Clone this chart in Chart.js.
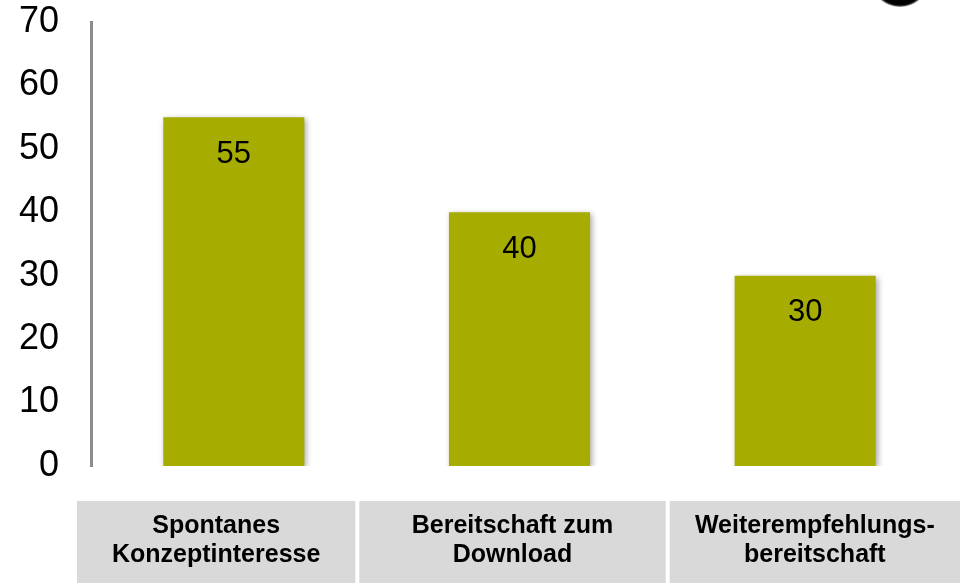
<!DOCTYPE html>
<html>
<head>
<meta charset="utf-8">
<script src="https://cdn.jsdelivr.net/npm/chart.js@4"></script>
<style>
  html, body { margin: 0; padding: 0; background: #ffffff; }
  #wrap { width: 964px; height: 583px; position: relative; }
</style>
</head>
<body>
<div id="wrap"><canvas id="c" width="964" height="583"></canvas></div>
<script>
// ---- data ----
const categories = [
  ["Spontanes", "Konzeptinteresse"],
  ["Bereitschaft zum", "Download"],
  ["Weiterempfehlungs-", "bereitschaft"]
];
const values = [55, 40, 30];
const yTicks = [0, 10, 20, 30, 40, 50, 60, 70];

// ---- style ----
const FONT = '"Liberation Sans", Arial, Helvetica, sans-serif';
const BAR_COLOR = '#A6AD00';
const BOX_COLOR = '#D9D9D9';
const AXIS_COLOR = '#8C8C8C';
// relative edges of the three label boxes within the label strip
const BOX_EDGES = [[0, 278 / 882], [282 / 882, 588 / 882], [592 / 882, 1]];

const decorPlugin = {
  id: 'decor',
  beforeDatasetsDraw(chart) {
    const ctx = chart.ctx;
    ctx.save();
    ctx.shadowColor = 'rgba(0,0,0,0.35)';
    ctx.shadowBlur = 6;
    ctx.shadowOffsetX = 2;
    ctx.shadowOffsetY = 2;
  },
  afterDatasetsDraw(chart) {
    const ctx = chart.ctx;
    ctx.restore();
    // value labels inside bars
    const meta = chart.getDatasetMeta(0);
    ctx.save();
    ctx.font = '31px ' + FONT;
    ctx.fillStyle = '#000000';
    ctx.textAlign = 'center';
    ctx.textBaseline = 'middle';
    meta.data.forEach((bar, i) => {
      ctx.fillText(String(values[i]), bar.x, bar.y + 37);
    });
    ctx.restore();
  },
  afterDraw(chart) {
    const ctx = chart.ctx;
    const area = chart.chartArea;
    const stripLeft = area.left - 14;
    const stripRight = area.right + 12;
    const W = stripRight - stripLeft;
    const top = area.bottom + 35;
    const bottom = chart.height;
    ctx.save();
    BOX_EDGES.forEach((e, i) => {
      const l = stripLeft + e[0] * W;
      const r = stripLeft + e[1] * W;
      ctx.fillStyle = BOX_COLOR;
      ctx.fillRect(l, top, r - l, bottom - top);
      ctx.fillStyle = '#000000';
      ctx.font = 'bold 25px ' + FONT;
      ctx.textAlign = 'center';
      ctx.textBaseline = 'alphabetic';
      const cx = (l + r) / 2;
      categories[i].forEach((line, k) => {
        ctx.fillText(line, cx, top + 32 + k * 29);
      });
    });
    // partial logo at top right
    const g = ctx.createRadialGradient(900, -22, 10, 900, -22, 30);
    g.addColorStop(0, '#000000');
    g.addColorStop(0.85, '#000000');
    g.addColorStop(1, 'rgba(0,0,0,0)');
    ctx.fillStyle = g;
    ctx.beginPath();
    ctx.ellipse(900, -22, 30, 29, 0, 0, Math.PI * 2);
    ctx.fill();
    ctx.restore();
  }
};

new Chart(document.getElementById('c'), {
  type: 'bar',
  data: {
    labels: categories,
    datasets: [{
      data: values,
      backgroundColor: BAR_COLOR,
      borderWidth: 0,
      barPercentage: 0.494,
      categoryPercentage: 1.0
    }]
  },
  options: {
    responsive: false,
    animation: false,
    devicePixelRatio: 1,
    layout: { padding: { top: 22, left: 19, right: 16, bottom: 117 } },
    plugins: {
      legend: { display: false },
      tooltip: { enabled: false },
      title: { display: false }
    },
    scales: {
      x: {
        display: false,
        offset: true,
        grid: { display: false }
      },
      y: {
        min: 0,
        max: 70,
        afterBuildTicks(scale) {
          scale.ticks = yTicks.map(v => ({ value: v }));
        },
        afterFit(scale) {
          scale.width = 72;
          scale.paddingTop = 0;
          scale.paddingBottom = 0;
        },
        grid: { display: false, drawTicks: false },
        border: { display: true, color: AXIS_COLOR, width: 3 },
        ticks: {
          padding: 32,
          color: '#000000',
          font: { family: FONT, size: 36 }
        }
      }
    }
  },
  plugins: [decorPlugin]
});
</script>
</body>
</html>
